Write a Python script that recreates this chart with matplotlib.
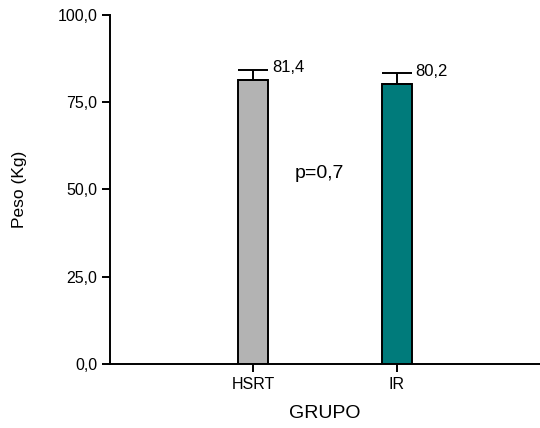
import matplotlib
matplotlib.use("Agg")
import matplotlib.pyplot as plt

# data
grupos = ["HSRT", "IR"]
peso = [81.4, 80.2]
erro = [2.9, 3.1]
cores = ["#b3b3b3", "#007b7b"]
rotulos = ["81,4", "80,2"]
p_texto = "p=0,7"
yticks = [0, 25, 50, 75, 100]
ytick_labels = ["0,0", "25,0", "50,0", "75,0", "100,0"]

plt.rcParams["font.family"] = ["Liberation Sans", "DejaVu Sans"]

fig = plt.figure(figsize=(5.4, 4.28), dpi=100)
ax = fig.add_axes([0.2037, 0.1495, 0.7963, 0.8155])

x = list(range(len(grupos)))
ax.bar(x, peso, width=0.21, color=cores, edgecolor="black", linewidth=1.4, zorder=2)
ax.errorbar(x, peso, yerr=[[0, 0], erro], fmt="none", ecolor="black",
            elinewidth=1.4, capsize=11, capthick=1.4, zorder=3)

for xi, v, e, lab in zip(x, peso, erro, rotulos):
    ax.text(xi + 0.13, v + e + 0.6, lab, fontsize=12, ha="left", va="center")

ax.text(0.46, 54.7, p_texto, fontsize=14, ha="center", va="center")

ax.set_xlim(-1, 2)
ax.set_ylim(0, 100)
ax.set_xticks(x)
ax.set_xticklabels(grupos, fontsize=11.5)
ax.set_yticks(yticks)
ax.set_yticklabels(ytick_labels, fontsize=11.5)
ax.set_xlabel("GRUPO", fontsize=14, labelpad=10)
ax.set_ylabel("Peso (Kg)", fontsize=12.5, labelpad=22)

for s in ["top", "right"]:
    ax.spines[s].set_visible(False)
for s in ["left", "bottom"]:
    ax.spines[s].set_linewidth(1.4)
ax.tick_params(direction="out", length=6, width=1.4, pad=3)

fig.savefig("out.png", dpi=100)
